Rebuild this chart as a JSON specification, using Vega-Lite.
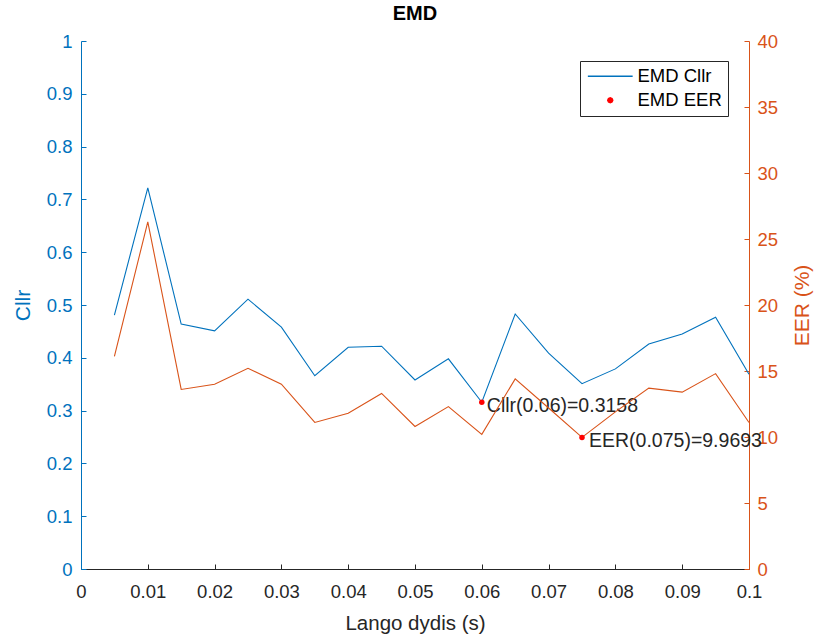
{
  "$schema": "https://vega.github.io/schema/vega-lite/v6.json",
  "width": 668,
  "height": 528,
  "autosize": {"type": "none"},
  "padding": {"left": 81, "top": 41, "right": 67, "bottom": 65},
  "background": "white",
  "config": {
    "font": "Liberation Sans",
    "view": {"stroke": null},
    "axis": {"grid": false, "labelFont": "Liberation Sans", "titleFont": "Liberation Sans", "titleFontWeight": "normal"}
  },
  "title": {"text": "EMD", "fontSize": 20, "fontWeight": "bold", "color": "#000000", "anchor": "middle", "offset": 8},
  "datasets": {
    "main": [
      {"x": 0.005, "cllr": 0.481, "eer": 16.1},
      {"x": 0.01, "cllr": 0.722, "eer": 26.3},
      {"x": 0.015, "cllr": 0.464, "eer": 13.6},
      {"x": 0.02, "cllr": 0.451, "eer": 14.0},
      {"x": 0.025, "cllr": 0.511, "eer": 15.2},
      {"x": 0.03, "cllr": 0.458, "eer": 14.0},
      {"x": 0.035, "cllr": 0.366, "eer": 11.1},
      {"x": 0.04, "cllr": 0.420, "eer": 11.8},
      {"x": 0.045, "cllr": 0.422, "eer": 13.3},
      {"x": 0.05, "cllr": 0.358, "eer": 10.8},
      {"x": 0.055, "cllr": 0.398, "eer": 12.3},
      {"x": 0.06, "cllr": 0.3158, "eer": 10.2},
      {"x": 0.065, "cllr": 0.483, "eer": 14.4},
      {"x": 0.07, "cllr": 0.409, "eer": 12.2},
      {"x": 0.075, "cllr": 0.351, "eer": 9.9693},
      {"x": 0.08, "cllr": 0.379, "eer": 11.9},
      {"x": 0.085, "cllr": 0.426, "eer": 13.7},
      {"x": 0.09, "cllr": 0.445, "eer": 13.4},
      {"x": 0.095, "cllr": 0.477, "eer": 14.8},
      {"x": 0.1, "cllr": 0.369, "eer": 11.1}
    ],
    "cllrMark": [{"x": 0.06, "cllr": 0.3158, "label": "Cllr(0.06)=0.3158"}],
    "eerMark": [{"x": 0.075, "eer": 9.9693, "label": "EER(0.075)=9.9693"}]
  },
  "layer": [
    {
      "encoding": {
        "x": {
          "field": "x", "type": "quantitative",
          "scale": {"domain": [0, 0.1], "nice": false, "zero": false},
          "axis": {
            "title": "Lango dydis (s)", "titleFontSize": 20.5, "titleColor": "#262626", "titlePadding": 13,
            "values": [0, 0.01, 0.02, 0.03, 0.04, 0.05, 0.06, 0.07, 0.08, 0.09, 0.1],
            "format": "~g", "labelFontSize": 18.5, "labelColor": "#262626", "labelPadding": 18,
            "domainColor": "#262626", "tickColor": "#262626", "tickSize": -5, "labelFlush": false
          }
        },
        "y": {
          "field": "cllr", "type": "quantitative",
          "scale": {"domain": [0, 1], "nice": false},
          "axis": {
            "orient": "left", "title": "Cllr", "titleFontSize": 21, "titleColor": "#0072BD", "titlePadding": 13,
            "values": [0, 0.1, 0.2, 0.3, 0.4, 0.5, 0.6, 0.7, 0.8, 0.9, 1],
            "format": "~g", "labelFontSize": 18.5, "labelColor": "#0072BD", "labelPadding": 14,
            "domainColor": "#0072BD", "tickColor": "#0072BD", "tickSize": -5, "labelFlush": false
          }
        }
      },
      "layer": [
        {
          "data": {"name": "main"},
          "mark": {"type": "line", "strokeWidth": 1.1},
          "encoding": {
            "color": {
              "datum": "EMD Cllr",
              "scale": {"domain": ["EMD Cllr", "EMD EER"], "range": ["#0072BD", "#FF0000"]},
              "legend": {
                "title": null, "orient": "none", "legendX": 499, "legendY": 20,
                "strokeColor": "#262626", "fillColor": "white", "padding": 6,
                "labelFontSize": 18.5, "labelColor": "#000000", "symbolSize": 196, "symbolStrokeWidth": 1.5,
                "rowPadding": 5, "symbolOffset": 15, "labelOffset": 18,
                "encode": {
                  "symbols": {
                    "update": {
                      "shape": {"signal": "datum.value === 'EMD Cllr' ? 'M-3.2,0L3.2,0' : 'M-0.36,0L-0.25,-0.25L0,-0.36L0.25,-0.25L0.36,0L0.25,0.25L0,0.36L-0.25,0.25Z'"},
                      "fill": {"signal": "datum.value === 'EMD Cllr' ? 'transparent' : '#FF0000'"},
                      "stroke": {"signal": "datum.value === 'EMD Cllr' ? '#0072BD' : '#FF0000'"}
                    }
                  }
                }
              }
            }
          }
        },
        {
          "data": {"name": "cllrMark"},
          "mark": {"type": "point", "filled": true, "size": 30, "opacity": 1},
          "encoding": {"color": {"datum": "EMD EER"}}
        },
        {
          "data": {"name": "cllrMark"},
          "mark": {"type": "text", "align": "left", "baseline": "middle", "dx": 5, "dy": 4, "fontSize": 19.5, "color": "#262626"},
          "encoding": {"text": {"field": "label"}}
        }
      ]
    },
    {
      "encoding": {
        "x": {"field": "x", "type": "quantitative", "scale": {"domain": [0, 0.1], "nice": false, "zero": false}},
        "y": {
          "field": "eer", "type": "quantitative",
          "scale": {"domain": [0, 40], "nice": false},
          "axis": {
            "orient": "right", "title": "EER (%)", "titleFontSize": 21, "titleColor": "#D95319", "titlePadding": 14,
            "titleAngle": 270, "titleBaseline": "top",
            "values": [0, 5, 10, 15, 20, 25, 30, 35, 40],
            "labelFontSize": 18.5, "labelColor": "#D95319", "labelPadding": 13,
            "domainColor": "#D95319", "tickColor": "#D95319", "tickSize": -5, "labelFlush": false
          }
        }
      },
      "layer": [
        {
          "data": {"name": "main"},
          "mark": {"type": "line", "strokeWidth": 1.1, "color": "#D95319"},
          "encoding": {}
        },
        {
          "data": {"name": "eerMark"},
          "mark": {"type": "point", "filled": true, "size": 30, "opacity": 1},
          "encoding": {"color": {"datum": "EMD EER"}}
        },
        {
          "data": {"name": "eerMark"},
          "mark": {"type": "text", "align": "left", "baseline": "middle", "dx": 7, "dy": 4, "fontSize": 19.5, "color": "#262626"},
          "encoding": {"text": {"field": "label"}}
        }
      ]
    }
  ],
  "resolve": {"scale": {"y": "independent"}}
}
